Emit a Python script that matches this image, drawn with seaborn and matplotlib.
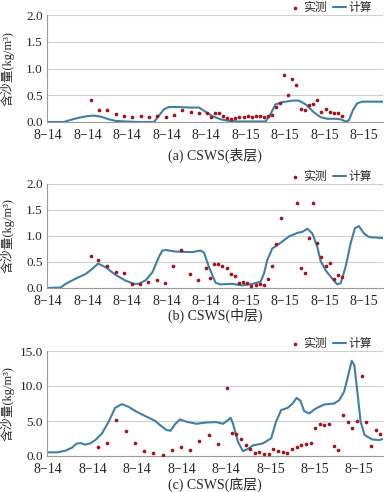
import numpy as np
import pandas as pd
import matplotlib
matplotlib.use("Agg")
import matplotlib.pyplot as plt
import seaborn as sns

# x in hours after the first tick (ticks every 3 h)
# (a) surface layer
a_line_x = [-0.05, 1.22, 1.72, 2.35, 2.99, 3.49, 4.00, 4.63, 5.14, 5.90, 6.91, 8.05, 8.43,
            8.81, 9.19, 9.95, 10.71, 11.47, 11.85, 12.48, 13.11, 13.75, 14.51, 16.53, 16.91,
            17.29, 17.80, 18.56, 19.06, 19.57, 20.20, 20.71, 21.22, 21.85, 22.23, 22.61,
            22.86, 23.16, 23.49, 23.87, 24.63, 25.44]
a_line_y = [0.0, 0.0, 0.04, 0.08, 0.11, 0.12, 0.10, 0.05, 0.02, 0.01, 0.0, 0.0, 0.12,
            0.24, 0.28, 0.28, 0.27, 0.27, 0.21, 0.11, 0.05, 0.02, 0.01, 0.01, 0.15,
            0.33, 0.37, 0.40, 0.40, 0.33, 0.18, 0.09, 0.06, 0.06, 0.05, 0.01,
            0.03, 0.22, 0.35, 0.38, 0.38, 0.38]
a_obs_x = [3.29, 3.87, 4.51, 5.14, 5.77, 6.41, 7.04, 7.67, 8.30, 8.94, 9.57, 10.20, 10.84,
           11.47, 12.10, 12.35, 12.68, 12.99, 13.30, 13.61, 13.92, 14.24, 14.54, 14.86,
           15.17, 15.49, 15.80, 16.10, 16.41, 16.71, 16.99, 17.29, 17.61, 17.93, 18.24,
           18.56, 18.86, 19.19, 19.52, 19.82, 20.13, 20.44, 20.76, 21.09, 21.39, 21.72,
           22.03, 22.34]
a_obs_y = [0.42, 0.23, 0.23, 0.15, 0.11, 0.09, 0.11, 0.09, 0.12, 0.10, 0.14, 0.22, 0.19,
           0.17, 0.17, 0.09, 0.17, 0.17, 0.11, 0.07, 0.06, 0.07, 0.09, 0.10,
           0.11, 0.10, 0.11, 0.11, 0.09, 0.11, 0.14, 0.28, 0.36, 0.87, 0.51,
           0.80, 0.70, 0.24, 0.22, 0.31, 0.34, 0.41, 0.19, 0.24, 0.19, 0.17,
           0.16, 0.11]

# (b) middle layer
b_line_x = [-0.05, 0.96, 1.34, 2.10, 2.86, 3.37, 3.80, 4.38, 5.14, 5.90, 6.53, 6.91, 7.42,
            7.92, 8.43, 8.68, 8.94, 9.70, 10.96, 11.59, 11.85, 12.23, 12.73, 13.11, 14.00,
            14.76, 15.52, 16.15, 16.41, 16.66, 17.04, 17.67, 18.30, 18.94, 19.32, 19.70,
            20.08, 20.46, 20.71, 21.09, 21.59, 21.97, 22.23, 22.61, 22.99, 23.32, 23.62,
            24.00, 24.38, 25.44]
b_line_y = [0.0, 0.01, 0.08, 0.18, 0.27, 0.37, 0.47, 0.40, 0.25, 0.14, 0.08, 0.08, 0.15,
            0.30, 0.60, 0.72, 0.73, 0.70, 0.69, 0.72, 0.68, 0.40, 0.10, 0.07, 0.08,
            0.05, 0.08, 0.12, 0.28, 0.54, 0.76, 0.87, 0.99, 1.06, 1.08, 1.14,
            1.05, 0.79, 0.52, 0.34, 0.18, 0.07, 0.09, 0.41, 0.86, 1.15, 1.19,
            1.05, 0.98, 0.96]
b_obs_x = [3.24, 3.82, 4.46, 5.14, 5.77, 6.35, 6.99, 7.62, 8.25, 8.86, 9.49, 10.13, 10.76,
           11.39, 11.97, 12.33, 12.61, 12.94, 13.24, 13.57, 13.87, 14.20, 14.51, 14.81,
           15.14, 15.44, 15.77, 16.08, 16.41, 16.71, 17.04, 17.34, 17.67, 18.89, 19.19,
           19.52, 19.82, 20.13, 20.46, 20.76, 21.09, 21.39, 21.72, 22.03, 22.35]
b_obs_y = [0.62, 0.54, 0.42, 0.30, 0.28, 0.07, 0.07, 0.11, 0.16, 0.09, 0.42, 0.74, 0.27,
           0.15, 0.39, 0.19, 0.46, 0.46, 0.42, 0.39, 0.27, 0.23, 0.10, 0.11,
           0.10, 0.03, 0.06, 0.07, 0.06, 0.17, 0.43, 0.84, 1.35, 1.64, 0.39,
           0.28, 0.97, 1.63, 0.87, 0.60, 0.42, 0.48, 0.17, 0.25, 0.21]

# (c) bottom layer
c_line_x = [-0.07, 0.60, 1.16, 1.61, 1.90, 2.17, 2.51, 2.84, 3.18, 3.63, 4.08, 4.52, 4.97,
            5.42, 5.98, 6.65, 7.21, 7.55, 7.99, 8.26, 8.55, 8.89, 9.34, 10.01, 10.68,
            11.35, 11.80, 12.14, 12.31, 12.47, 12.81, 13.14, 13.48, 13.81, 14.49, 15.05,
            15.38, 15.72, 16.17, 16.50, 16.77, 17.02, 17.28, 17.62, 18.07, 18.63, 19.30,
            19.64, 19.97, 20.20, 20.49, 20.67, 20.87, 21.09, 21.36, 21.87, 22.32, 22.59]
c_line_y = [0.52, 0.52, 0.76, 1.19, 1.76, 1.85, 1.62, 1.80, 2.28, 3.23, 4.89, 6.88, 7.41,
            7.03, 6.31, 5.60, 5.03, 4.41, 3.70, 3.61, 4.51, 5.22, 4.89, 4.60, 4.79,
            4.84, 4.60, 5.13, 5.46, 4.65, 2.04, 0.70, 1.00, 1.50, 1.80, 2.52,
            4.89, 6.55, 6.88, 7.50, 8.31, 7.90, 6.41, 6.08, 6.79, 7.36, 7.50,
            7.97, 9.16, 11.06, 13.60, 12.96, 9.16, 4.89, 2.99, 2.37, 2.28, 2.42]
c_obs_x = [3.36, 3.96, 4.61, 5.24, 5.84, 6.47, 7.10, 7.72, 8.35, 8.96, 9.58, 10.19, 10.86,
           11.46, 12.09, 12.40, 12.70, 12.99, 13.32, 13.64, 13.93, 14.26, 14.55, 14.89,
           15.20, 15.52, 15.83, 16.14, 16.43, 16.77, 17.06, 17.40, 17.73, 18.02, 18.34,
           18.65, 18.96, 19.28, 19.59, 19.90, 20.24, 20.53, 20.87, 21.16, 21.47, 21.76,
           22.10, 22.39]
c_obs_y = [1.23, 1.85, 5.17, 3.61, 1.80, 0.76, 0.38, 0.19, 0.85, 1.28, 0.81, 2.14, 2.94,
           1.66, 9.78, 3.32, 3.09, 2.47, 1.52, 1.00, 0.47, 0.62, 0.28, 0.33,
           0.95, 0.71, 0.57, 0.47, 1.00, 1.28, 1.57, 1.71, 1.80, 3.94, 4.51,
           4.46, 4.51, 1.38, 0.85, 5.84, 4.89, 4.03, 4.98, 11.44, 4.84, 1.38,
           3.66, 3.09]

ab_ticks = ["8−14"] * 5 + ["8−15"] * 4
c_ticks = ["8−14"] * 5 + ["8−15"] * 3
captions = ["(a) CSWS(表层)", "(b) CSWS(中层)", "(c) CSWS(底层)"]

LINE_COLOR = "#3f7fa6"
DOT_COLOR = "#a0141e"

sns.set_theme(style="white")
plt.rcParams["font.family"] = ["Liberation Serif", "Noto Sans CJK SC", "DejaVu Sans"]
plt.rcParams["axes.unicode_minus"] = False

fig = plt.figure(figsize=(3.84, 4.92), dpi=100)

panels = [
    (a_line_x, a_line_y, a_obs_x, a_obs_y, ab_ticks, (0, 2.0), [0, 0.5, 1.0, 1.5, 2.0], 25.45,
     [15, 122], 155),
    (b_line_x, b_line_y, b_obs_x, b_obs_y, ab_ticks, (0, 2.0), [0, 0.5, 1.0, 1.5, 2.0], 25.45,
     [184, 288], 315),
    (c_line_x, c_line_y, c_obs_x, c_obs_y, c_ticks, (0, 15.0), [0, 5, 10, 15], 22.6,
     [351, 456], 485),
]

W, H = 384, 492
for i, (lx, ly, ox, oy, tlabels, ylim, yticks, xmax, (top, bot), cap_y) in enumerate(panels):
    ax = fig.add_axes([47 / W, 1 - bot / H, (383 - 47) / W, (bot - top) / H])
    sns.scatterplot(x=ox, y=oy, ax=ax, color=DOT_COLOR, s=7, linewidth=0,
                    label="实测", zorder=3)
    sns.lineplot(x=lx, y=ly, ax=ax, color=LINE_COLOR, linewidth=1.5,
                 label="计算", zorder=2)
    ax.set_xlim(-0.08, xmax)
    ax.set_ylim(*ylim)
    ax.set_yticks(yticks)
    ax.set_yticklabels([f"{v:.1f}" for v in yticks], fontsize=9.5)
    ax.set_xticks(np.arange(len(tlabels)) * 3)
    ax.set_xticklabels(tlabels, fontsize=10)
    ax.tick_params(axis="y", length=0, pad=3)
    ax.tick_params(axis="x", length=0, pad=5)
    ax.grid(axis="y", color="#cfcfcf", linewidth=0.8)
    for s in ["top", "right"]:
        ax.spines[s].set_visible(False)
    for s in ["left", "bottom"]:
        ax.spines[s].set_color("#9a9a9a")
        ax.spines[s].set_linewidth(0.8)
    ax.set_ylabel("含沙量(kg/m³)", fontsize=9, labelpad=0)
    ax.yaxis.set_label_coords(-0.098, 0.5)
    ax.legend(loc="lower right", bbox_to_anchor=(0.97, 1.0), ncol=2, frameon=False,
              fontsize=8.5, handlelength=1.1, handletextpad=0.2, columnspacing=0.5,
              borderaxespad=0.0, borderpad=0.1, markerscale=1.0)
    fig.text(215 / W, 1 - cap_y / H, captions[i], ha="center", va="center", fontsize=10)

fig.savefig("out.png", dpi=100)
